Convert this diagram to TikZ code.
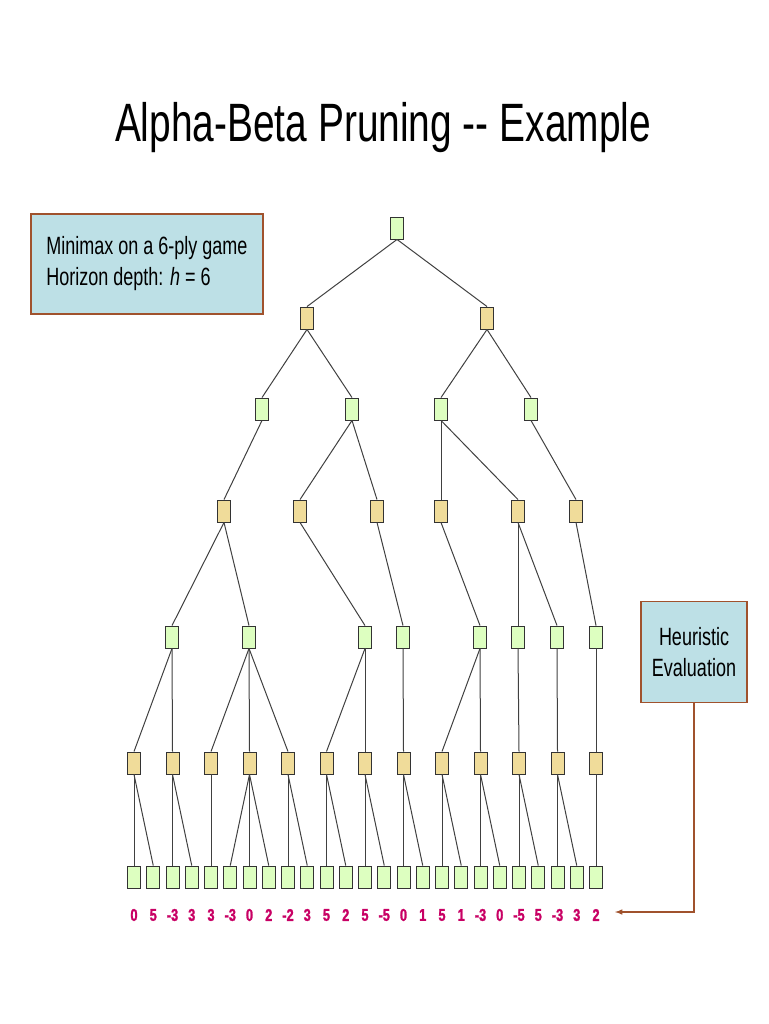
\documentclass[tikz,border=0pt]{standalone}
\usepackage{fontspec}
\setmainfont{Liberation Sans}
\newfontfamily\condf[FakeStretch=0.72]{Liberation Sans}
\newfontfamily\condb[FakeStretch=0.75,FakeBold=1.5]{Liberation Sans Bold}
\begin{document}
\begin{tikzpicture}[x=1pt,y=-1pt,
 nd/.style={draw=black!80,line width=0.9pt,minimum width=13pt,minimum height=22pt,inner sep=0pt},
 mx/.style={nd,fill={rgb,255:red,221;green,255;blue,192}},
 mn/.style={nd,fill={rgb,255:red,240;green,220;blue,154}},
 ed/.style={draw=black!75,line width=1pt},
 info/.style={draw={rgb,255:red,160;green,82;blue,45},line width=1.5pt,fill={rgb,255:red,189;green,224;blue,230},inner sep=6pt,font=\condf\fontsize{25}{31}\selectfont},
 val/.style={text={rgb,255:red,200;green,0;blue,100},font=\condb\fontsize{17}{17}\selectfont}]
\useasboundingbox (0,0) rectangle (768,1024);
\node at (383,128) {\condf\fontsize{54}{60}\selectfont Alpha-Beta Pruning -- Example};
\node[info,minimum width=232pt,minimum height=100pt,align=left] (mm) at (147,264) {Minimax on a 6-ply game\\Horizon depth: \textit{h} = 6};
\node[info,minimum width=106pt,minimum height=101pt,align=center] (he) at (694,652) {Heuristic\\Evaluation};
\node[mx] (r) at (397,228) {};
\node[mn] (a1) at (307,318) {};
\node[mn] (a2) at (487,318) {};
\foreach \n/\x in {b1/262,b2/352,b3/441,b4/531} \node[mx] (\n) at (\x,409) {};
\foreach \n/\x in {c1/224,c2/300,c3/377,c4/441,c5/518,c6/576} \node[mn] (\n) at (\x,511) {};
\foreach \n/\x in {d1/172,d2/249,d3/365,d4/403,d5/480,d6/518,d7/557,d8/596} \node[mx] (\n) at (\x,637) {};
\foreach \i in {0,...,12} \node[mn] (e\i) at (134+38.5*\i,763) {};
\foreach \v [count=\i from 0] in {0,5,-3,3,3,-3,0,2,-2,3,5,2,5,-5,0,1,5,1,-3,0,-5,5,-3,3,2} {
 \node[mx] (l\i) at (134+19.25*\i,877) {};
 \node[val] at (134+19.25*\i,915) {\v};
}
\foreach \p/\c in {r/a1,r/a2,a1/b1,a1/b2,a2/b3,a2/b4,b1/c1,b2/c2,b2/c3,b3/c4,b3/c5,b4/c6,
 c1/d1,c1/d2,c2/d3,c3/d4,c4/d5,c5/d6,c5/d7,c6/d8,
 d1/e0,d1/e1,d2/e2,d2/e3,d2/e4,d3/e5,d3/e6,d4/e7,d5/e8,d5/e9,d6/e10,d7/e11,d8/e12,
 e0/l0,e0/l1,e1/l2,e1/l3,e2/l4,e3/l5,e3/l6,e3/l7,e4/l8,e4/l9,e5/l10,e5/l11,e6/l12,e6/l13,
 e7/l14,e7/l15,e8/l16,e8/l17,e9/l18,e9/l19,e10/l20,e10/l21,e11/l22,e11/l23,e12/l24}
 \draw[ed] (\p.south) -- (\c.north);
\coordinate (ar) at (615,912);
\draw[draw={rgb,255:red,160;green,82;blue,45},line width=1.5pt,-latex] (he.south) |- (ar);
\end{tikzpicture}
\end{document}
